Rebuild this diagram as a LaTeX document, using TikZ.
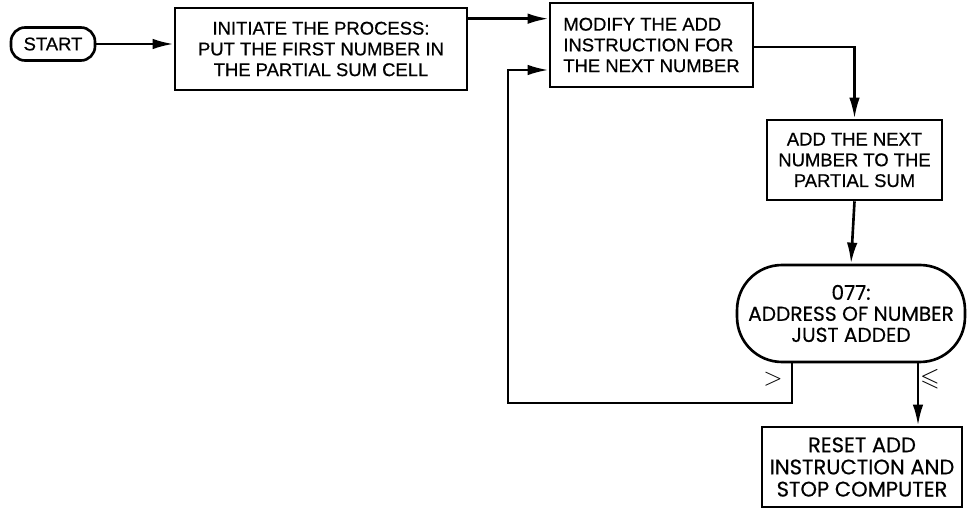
\documentclass[tikz,border=0pt]{standalone}
\usepackage{amsmath, amssymb}
\usepackage{fontspec}
\setmainfont{Liberation Sans}[FakeBold=0.6]
\newfontfamily\roundfont{Poppins}[FakeBold=0.4]
\usetikzlibrary{calc, arrows.meta, positioning}

\begin{document}
\begin{tikzpicture}[x=0.02cm, y=-0.02cm,
    box/.style={draw, line width=1.5pt, align=center, inner sep=1pt,
        font=\fontsize{10.5}{11.8}\selectfont},
    roundbox/.style={box, font=\roundfont\fontsize{11.5}{12}\selectfont},
    flow/.style={-{Latex[length=12pt, width=6pt]}, line width=1.5pt}]
    \useasboundingbox (0,0) rectangle (970,509);

    % 1. Boxes of the flow chart
    \node[box, rounded corners=8pt, minimum width=1.68cm, minimum height=0.66cm] (start) at (53,44) {START};
    \node[box, minimum width=5.84cm, minimum height=1.64cm] (init) at (321,49)
        {INITIATE THE PROCESS:\\PUT THE FIRST NUMBER IN\\THE PARTIAL SUM CELL};
    \node[box, align=left, minimum width=4.06cm, minimum height=1.68cm] (modify) at (651.5,45)
        {MODIFY THE ADD\\INSTRUCTION FOR\\THE NEXT NUMBER};
    \node[box, minimum width=3.5cm, minimum height=1.6cm] (add) at (854.5,160)
        {ADD THE NEXT\\NUMBER TO THE\\PARTIAL SUM};
    \node[roundbox, rounded corners=0.9cm, minimum width=4.56cm, minimum height=1.94cm] (test) at (851,313.5)
        {077:\\ADDRESS OF NUMBER\\JUST ADDED};
    \node[roundbox, font=\roundfont\fontsize{12}{12.6}\selectfont,
        minimum width=4cm, minimum height=1.6cm] (reset) at (862,467)
        {RESET ADD\\INSTRUCTION AND\\STOP COMPUTER};

    % 2. Exits of the test, corner of the loop, line out of the first box
    \coordinate (gt) at ($(test.south)+(-59,0)$);
    \coordinate (le) at ($(test.south)+(67,0)$);
    \coordinate (back) at (508,403);
    \coordinate (out) at ($(init.north east)+(0,12)$);

    % 3. Connectors
    \draw[flow] (start.east) -- (start.east -| init.west);
    \draw[flow] (out) -- (out -| modify.west);
    \draw[flow] ($(modify.east)+(0,2)$) -| (add.north);
    \draw[flow] (add.south) -- (test.north);
    \draw[flow] (le) -- (le |- reset.north);
    \draw[flow] (gt) |- (back) |- ($(modify.west)+(0,25)$);

    % 4. Labels of the two exits
    \node[font=\Large] (lgt) at ($(gt)+(-19,16)$) {$>$};
    \node[font=\Large] (lle) at ($(le)+(12,16)$) {$\leqslant$};
\end{tikzpicture}
\end{document}
